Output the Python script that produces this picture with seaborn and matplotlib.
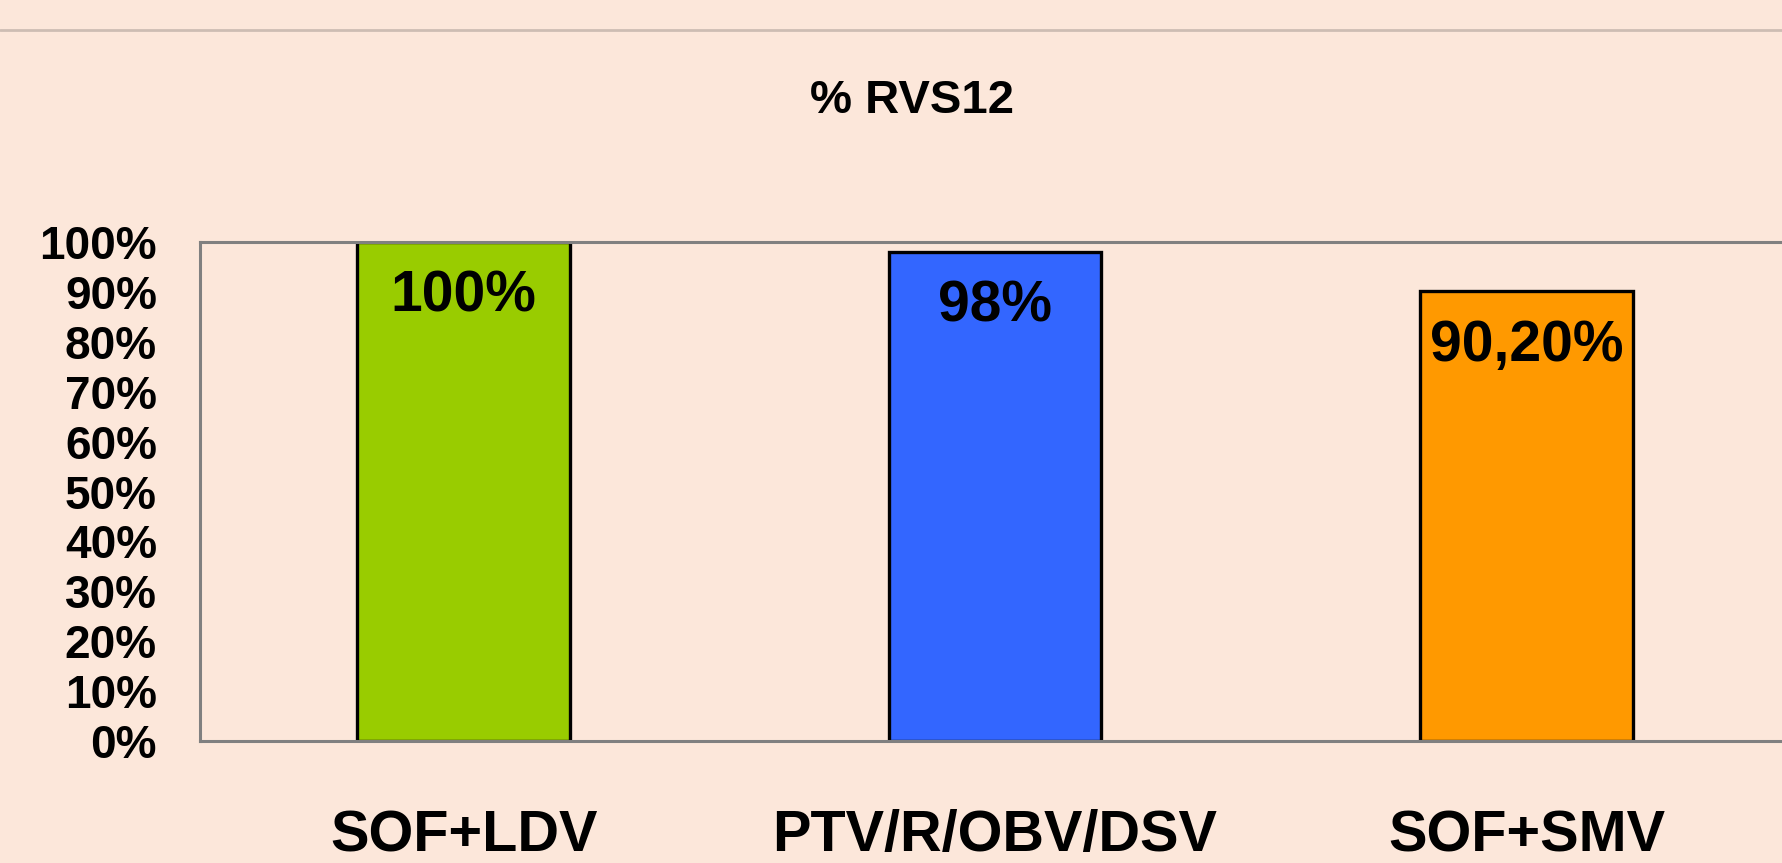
import matplotlib
matplotlib.use("Agg")
import matplotlib.pyplot as plt
from matplotlib.lines import Line2D
import pandas as pd
import seaborn as sns

# data
regimens = ["SOF+LDV", "PTV/R/OBV/DSV", "SOF+SMV"]
rvs12 = [100, 98, 90.2]
value_labels = ["100%", "98%", "90,20%"]
bar_colors = ["#99CC00", "#3366FF", "#FF9900"]
y_ticks = list(range(0, 101, 10))

BG = "#FCE7DA"

sns.set_style("white")
plt.rcParams["font.family"] = ["Liberation Sans", "DejaVu Sans"]
plt.rcParams["font.weight"] = "bold"
plt.rcParams["text.color"] = "black"

df = pd.DataFrame({"regimen": regimens, "rvs12": rvs12})

fig = plt.figure(figsize=(17.82, 8.63), dpi=100, facecolor=BG)
ax = fig.add_axes([200 / 1782, 1 - 741 / 863, 1 - 200 / 1782, 499 / 863])
ax.set_facecolor(BG)

sns.barplot(data=df, x="regimen", y="rvs12", hue="regimen",
            palette=bar_colors, width=0.4, edgecolor="black",
            linewidth=2.4, legend=False, ax=ax, saturation=1)

ax.set_xlim(-0.496, 2.481)
ax.set_ylim(0, 100)
ax.set_yticks(y_ticks)
ax.set_yticklabels([f"{t}%" for t in y_ticks], fontsize=33, fontweight="bold")
ax.tick_params(axis="y", length=0, pad=31, labelcolor="black")
ax.tick_params(axis="x", length=0, pad=49, labelsize=41.5, labelcolor="black")
for lbl in ax.get_xticklabels():
    lbl.set_fontweight("bold")
ax.set_xlabel("")
ax.set_ylabel("")

for side in ["left", "bottom", "top"]:
    ax.spines[side].set_color("#808080")
    ax.spines[side].set_linewidth(2.2)
ax.spines["right"].set_visible(False)

for i, (v, txt) in enumerate(zip(rvs12, value_labels)):
    ax.annotate(txt, xy=(i, v), xytext=(0, -20), textcoords="offset points",
                ha="center", va="top", fontsize=41, fontweight="bold",
                color="black")

fig.text(912 / 1782, 1 - 101 / 863, "% RVS12", ha="center", va="center",
         fontsize=34, fontweight="bold", color="black")

fig.add_artist(Line2D([0, 1], [1 - 30 / 863, 1 - 30 / 863],
                      transform=fig.transFigure, color="#CDBDB3", linewidth=2))

fig.savefig("out.png", dpi=100, facecolor=BG)
